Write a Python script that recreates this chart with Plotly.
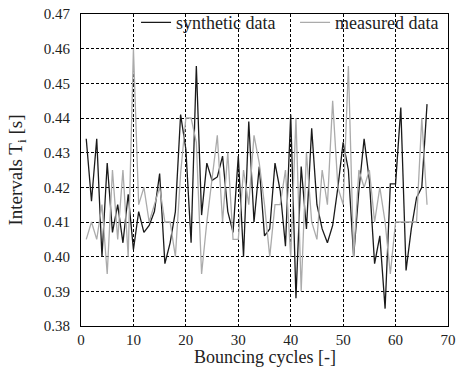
import plotly.graph_objects as go

cycles = list(range(1, 67))

synthetic = [0.434, 0.416, 0.434, 0.400, 0.427, 0.407, 0.415, 0.404, 0.418, 0.402,
             0.413, 0.407, 0.409, 0.413, 0.424, 0.398, 0.404, 0.413, 0.441, 0.431,
             0.404, 0.455, 0.412, 0.427, 0.422, 0.423, 0.429, 0.413, 0.407, 0.429,
             0.400, 0.439, 0.410, 0.426, 0.406, 0.408, 0.427, 0.419, 0.403, 0.441,
             0.388, 0.426, 0.408, 0.437, 0.415, 0.408, 0.404, 0.409, 0.420, 0.433,
             0.425, 0.400, 0.419, 0.434, 0.422, 0.398, 0.406, 0.385, 0.421, 0.421,
             0.443, 0.396, 0.408, 0.417, 0.420, 0.444]

measured = [0.405, 0.410, 0.405, 0.415, 0.395, 0.425, 0.405, 0.425, 0.400, 0.460,
            0.415, 0.420, 0.410, 0.415, 0.420, 0.410, 0.410, 0.400, 0.424, 0.440,
            0.440, 0.433, 0.395, 0.410, 0.422, 0.435, 0.410, 0.430, 0.405, 0.405,
            0.425, 0.415, 0.435, 0.427, 0.415, 0.400, 0.415, 0.415, 0.425, 0.400,
            0.440, 0.390, 0.430, 0.410, 0.405, 0.425, 0.415, 0.445, 0.420, 0.415,
            0.455, 0.400, 0.425, 0.420, 0.425, 0.410, 0.420, 0.410, 0.395, 0.410,
            0.410, 0.410, 0.410, 0.410, 0.440, 0.415]

x_ticks = [0, 10, 20, 30, 40, 50, 60, 70]
y_ticks = [0.38, 0.39, 0.40, 0.41, 0.42, 0.43, 0.44, 0.45, 0.46, 0.47]

FONT = "Liberation Serif"

fig = go.Figure()
fig.add_trace(go.Scatter(x=cycles, y=synthetic, mode="lines", name="synthetic data",
                         line=dict(color="#1a1a1a", width=1.3)))
fig.add_trace(go.Scatter(x=cycles, y=measured, mode="lines", name="measured data",
                         line=dict(color="#ababab", width=1.3)))

axis_common = dict(showline=True, mirror=True, linecolor="black", linewidth=1,
                   showgrid=True, gridcolor="black", gridwidth=1, griddash="3px,2px",
                   zeroline=False, ticks="", ticklabeloverflow="allow", automargin=False,
                   tickfont=dict(family=FONT, size=15, color="#222"))

fig.update_xaxes(range=[0, 70], tickvals=x_ticks, ticktext=[str(v) for v in x_ticks],
                 ticklabelstandoff=0,
                 **axis_common)
fig.update_yaxes(range=[0.38, 0.47], tickvals=y_ticks, ticktext=[f"{v:.2f}" for v in y_ticks],
                 title=dict(text="Intervals T<sub>i</sub> [s]", font=dict(family=FONT, size=19, color="#222"),
                            standoff=16),
                 ticklabelstandoff=7,
                 **axis_common)

fig.add_annotation(text="Bouncing cycles [-]", xref="paper", yref="paper",
                   x=0.5, y=-0.1, xanchor="center", yanchor="middle", showarrow=False,
                   font=dict(family=FONT, size=18, color="#222"))

fig.update_layout(
    width=458, height=367,
    margin=dict(l=81, r=4, t=6, b=41),
    paper_bgcolor="white", plot_bgcolor="white",
    font=dict(family=FONT),
    showlegend=True,
    legend=dict(orientation="h", x=0.15, y=0.972, xanchor="left", yanchor="middle",
                bgcolor="rgba(0,0,0,0)", font=dict(family=FONT, size=18, color="#222"),
                entrywidth=114, entrywidthmode="pixels"),
)

fig.write_html("out.html")
